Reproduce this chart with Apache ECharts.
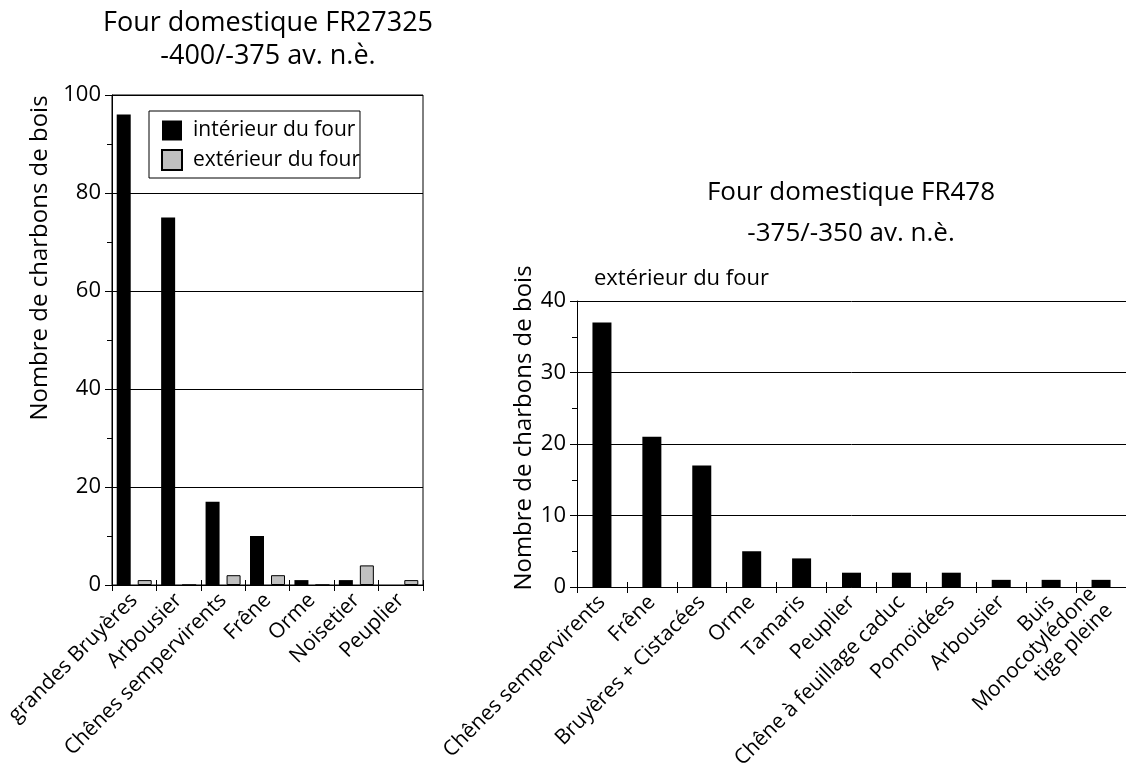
<!DOCTYPE html>
<html>
<head>
<meta charset="utf-8">
<script src="https://cdn.jsdelivr.net/npm/echarts@6/dist/echarts.min.js"></script>
<style>
html,body{margin:0;padding:0;background:#fff;}
#chart{width:1126px;height:778px;}
</style>
</head>
<body>
<div id="chart"></div>
<script>
// ---- data ----
const leftTitle1 = 'Four domestique FR27325';
const leftTitle2 = '-400/-375 av. n.è.';
const rightTitle1 = 'Four domestique FR478';
const rightTitle2 = '-375/-350 av. n.è.';
const rightSubtitle = 'extérieur du four';
const yName = 'Nombre de charbons de bois';
const seriesNames = ['intérieur du four', 'extérieur du four'];

const leftCats = ['grandes Bruyères', 'Arbousier', 'Chênes sempervirents', 'Frêne', 'Orme', 'Noisetier', 'Peuplier'];
const leftInterior = [96, 75, 17, 10, 1, 1, 0];
const leftExterior = [1, 0, 2, 2, 0, 4, 1];
const leftYMin = 0, leftYMax = 100, leftYStep = 20;

const rightCats = ['Chênes sempervirents', 'Frêne', 'Bruyères + Cistacées', 'Orme', 'Tamaris', 'Peuplier',
  'Chêne à feuillage caduc', 'Pomoïdées', 'Arbousier', 'Buis', 'Monocotylédone\ntige pleine'];
const rightExterior = [37, 21, 17, 5, 4, 2, 2, 2, 1, 1, 1];
const rightYMin = 0, rightYMax = 40, rightYStep = 10;

// ---- chart ----
const FONT = 'Open Sans';
const chart = echarts.init(document.getElementById('chart'), null, {renderer: 'canvas'});

function yAxisCfg(gridIndex, min, max, step) {
  return {
    type: 'value', gridIndex: gridIndex, min: min, max: max, interval: step,
    axisLine: {show: true, lineStyle: {color: '#000', width: 1}},
    axisTick: {show: true, length: 7, lineStyle: {color: '#000'}},
    minorTick: {show: true, splitNumber: 2, length: 5, lineStyle: {color: '#000'}},
    splitLine: {show: true, lineStyle: {color: '#000', width: 1}},
    axisLabel: {color: '#000', fontSize: 22, fontFamily: FONT, margin: 11}
  };
}
function xAxisCfg(gridIndex, cats) {
  return {
    type: 'category', gridIndex: gridIndex, data: cats, position: 'bottom',
    axisLine: {show: true, lineStyle: {color: '#000', width: 1}},
    axisTick: {show: true, length: 6, interval: 0, lineStyle: {color: '#000'}},
    axisLabel: {rotate: 45, interval: 0, color: '#000', fontSize: 21, fontFamily: FONT, margin: 12, lineHeight: 23, align: 'right'}
  };
}
function xAxisInner(gridIndex, cats) {
  return {
    type: 'category', gridIndex: gridIndex, data: cats, position: 'bottom',
    axisLine: {show: false},
    axisTick: {show: true, inside: true, length: 5, interval: 0, lineStyle: {color: '#000'}},
    axisLabel: {show: false}, splitLine: {show: false}
  };
}

const option = {
  animation: false,
  backgroundColor: '#fff',
  textStyle: {fontFamily: FONT},
  grid: [
    {left: 112, top: 95, width: 311, height: 490, show: true, borderColor: '#000', borderWidth: 1, containLabel: false},
    {left: 577, top: 301, width: 549, height: 286, containLabel: false}
  ],
  xAxis: [xAxisCfg(0, leftCats), xAxisInner(0, leftCats), xAxisCfg(1, rightCats), xAxisInner(1, rightCats)],
  yAxis: [yAxisCfg(0, leftYMin, leftYMax, leftYStep), yAxisCfg(1, rightYMin, rightYMax, rightYStep)],
  legend: {
    data: seriesNames, orient: 'vertical', left: 149, top: 111,
    itemWidth: 20, itemHeight: 20, itemGap: 8, icon: 'rect',
    borderColor: '#000', borderWidth: 1, padding: [9, 0, 7, 12],
    textStyle: {fontSize: 21, fontFamily: FONT, color: '#000', padding: [0, 0, 0, 6]}
  },
  graphic: [
    {type: 'text', x: 268, y: 23, style: {text: leftTitle1, font: '27px "Open Sans"', fill: '#000', align: 'center', verticalAlign: 'middle'}},
    {type: 'text', x: 268, y: 56, style: {text: leftTitle2, font: '27px "Open Sans"', fill: '#000', align: 'center', verticalAlign: 'middle'}},
    {type: 'text', x: 851, y: 193, style: {text: rightTitle1, font: '26px "Open Sans"', fill: '#000', align: 'center', verticalAlign: 'middle'}},
    {type: 'text', x: 851, y: 234, style: {text: rightTitle2, font: '26px "Open Sans"', fill: '#000', align: 'center', verticalAlign: 'middle'}},
    {type: 'text', x: 594, y: 279, style: {text: rightSubtitle, font: '22px "Open Sans"', fill: '#000', align: 'left', verticalAlign: 'middle'}},
    {type: 'text', x: 40, y: 258, rotation: Math.PI / 2, style: {text: yName, font: '24px "Open Sans"', fill: '#000', align: 'center', verticalAlign: 'middle'}},
    {type: 'text', x: 524, y: 428, rotation: Math.PI / 2, style: {text: yName, font: '24px "Open Sans"', fill: '#000', align: 'center', verticalAlign: 'middle'}}
  ],
  series: [
    {name: seriesNames[0], type: 'bar', xAxisIndex: 0, yAxisIndex: 0, data: leftInterior,
      barWidth: 14, barGap: '50%', itemStyle: {color: '#000'}},
    {name: seriesNames[1], type: 'bar', xAxisIndex: 0, yAxisIndex: 0, data: leftExterior,
      barWidth: 14, barGap: '50%', itemStyle: {color: '#c0c0c0', borderColor: '#000', borderWidth: 1}},
    {name: 'FR478', type: 'bar', xAxisIndex: 2, yAxisIndex: 1, data: rightExterior,
      barWidth: 19, itemStyle: {color: '#000'}}
  ]
};
chart.setOption(option);
</script>
</body>
</html>
